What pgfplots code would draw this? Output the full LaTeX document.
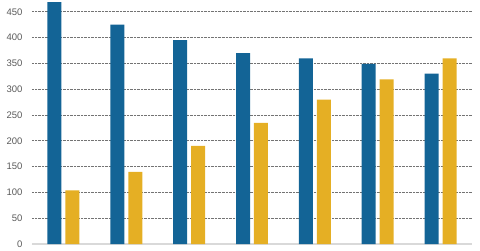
\documentclass[border=0pt]{standalone}
\usepackage{pgfplots}
\pgfplotsset{compat=1.18}
\usepackage{fontspec}
\setmainfont{Liberation Sans}
\definecolor{cblue}{HTML}{136496}
\definecolor{cyellow}{HTML}{E5AF24}
\definecolor{tickgray}{HTML}{595959}
\begin{document}
\begin{tikzpicture}
\useasboundingbox (-32bp,-7bp) rectangle (448bp,244bp);
\begin{axis}[
  at={(0,0)}, anchor=south west,
  scale only axis,
  width=440bp, height=243bp,
  xmin=-0.5, xmax=6.5,
  ymin=0, ymax=471,
  ytick={0,50,...,450},
  xtick=\empty,
  ymajorgrids,
  major grid style={densely dotted, line width=0.7pt, color=black!55},
  axis line style={draw=none},
  y axis line style={draw=none},
  major tick length=0pt,
  tick label style={font=\fontsize{9.5bp}{11bp}\selectfont, color=tickgray},
  /pgf/number format/assume math mode=true,
  yticklabel style={xshift=-6bp},
  ybar, bar width=0.223,
  clip=false,
]
\draw[color=black!15, line width=1.2pt] (axis cs:-0.5,0) -- (axis cs:6.5,0);
\addplot[fill=cblue, draw=none, bar shift=-0.143] coordinates {
(0,469) (1,425) (2,395) (3,370) (4,360) (5,349) (6,330)};
\addplot[fill=cyellow, draw=none, bar shift=0.143] coordinates {
(0,104) (1,140) (2,190) (3,235) (4,280) (5,319) (6,360)};
\end{axis}
\end{tikzpicture}
\end{document}
